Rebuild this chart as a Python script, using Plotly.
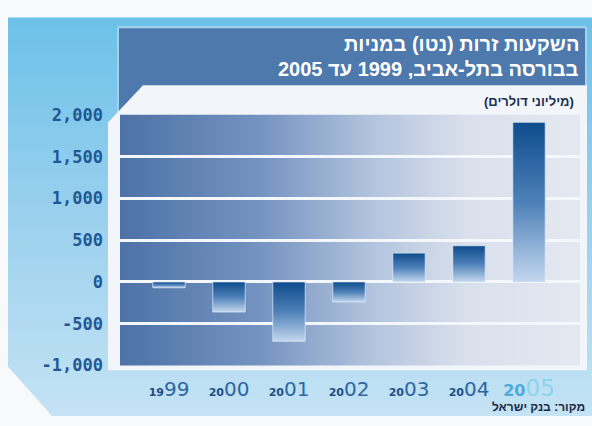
import plotly.graph_objects as go

# Net foreign investment in TASE shares, USD millions
years = ["1999", "2000", "2001", "2002", "2003", "2004", "2005"]
net_investment = [-70, -360, -710, -240, 345, 433, 1910]

y_ticks = [-1000, -500, 0, 500, 1000, 1500, 2000]
y_tick_labels = ["-1,000", "-500", "0", "500", "1,000", "1,500", "2,000"]

title_lines = ["השקעות זרות (נטו) במניות", "בבורסה בתל-אביב, 1999 עד 2005"]
unit_label = "(מיליוני דולרים)"
source_label = "מקור: בנק ישראל"

W, H = 592, 426
PLOT_L, PLOT_R, PLOT_T, PLOT_B = 120, 580, 110, 373
STEP_PX = 60          # horizontal distance between year slots
FIRST_PX = 169        # centre of the first slot
BAR_HALF = 0.27       # half bar width, in slot units

NAVY = "#1f5894"
HEB_FONT = "Liberation Sans"


def px_x(v):
    return v / W


def px_y(v):
    return 1 - v / H


def year_label(y, last=False):
    head, tail = y[:2], y[2:]
    if last:
        return (f"<span style='font-size:16px;color:#4fa9dc'><b>{head}</b></span>"
                f"<span style='font-size:23px;color:#8fd3ee'>{tail}</span>")
    return (f"<span style='font-size:11px;color:#1d4f86'><b>{head}</b></span>"
            f"<span style='font-size:20px;color:#2c66a3'>{tail}</span>")


fig = go.Figure()

# ---- decorative backdrop, drawn on a pixel-space subplot ----
def deco(xs, ys, color=None, gradient=None, line=None):
    fig.add_trace(go.Scatter(
        x=xs, y=ys, mode="lines", fill="toself",
        fillcolor=color, fillgradient=gradient,
        line=line or dict(width=0, color="rgba(0,0,0,0)"),
        hoverinfo="skip", showlegend=False, xaxis="x", yaxis="y"))

# light blue panel with clipped lower-left corner (deep at the top, pale below)
deco([8, 592, 592, 52, 8, 8], [8, 8, 426, 426, 374, 8],
     gradient=dict(type="vertical",
                   colorscale=[[0, "#c4e3f4"], [0.45, "#9fd2ee"], [1, "#6cc1e9"]]))
# title block
deco([118, 586, 586, 118, 118], [18, 18, 112, 112, 18], color="#4d79ac",
     line=dict(width=2, color="#a3d2ef"))
# white sheet holding the chart
deco([108, 143, 587, 587, 108, 108], [118, 79, 79, 378, 378, 118], color="#f2f5f9")
# plot area wash, dark on the left fading to pale on the right
deco([PLOT_L, PLOT_R, PLOT_R, PLOT_L, PLOT_L], [PLOT_T, PLOT_T, PLOT_B, PLOT_B, PLOT_T],
     gradient=dict(type="horizontal",
                   colorscale=[[0, "#4d72a7"], [0.3, "#7493c0"], [0.55, "#b3c4de"],
                               [0.75, "#d9e0ec"], [1, "#e4e8f0"]]))

# ---- bars with a vertical gradient, drawn on the data axes ----
for i, v in enumerate(net_investment):
    fig.add_trace(go.Scatter(
        x=[i - BAR_HALF, i + BAR_HALF, i + BAR_HALF, i - BAR_HALF, i - BAR_HALF],
        y=[0, 0, v, v, 0],
        mode="lines", fill="toself",
        fillgradient=dict(type="vertical",
                          colorscale=[[0, "#c3d7ee"], [0.5, "#4d80b8"], [1, "#0e4c8c"]]),
        line=dict(width=1, color="rgba(225,236,248,0.7)"),
        name=years[i], hovertemplate=f"{years[i]}: {v:,}<extra></extra>",
        showlegend=False, xaxis="x2", yaxis="y2"))

fig.update_layout(
    width=W, height=H,
    margin=dict(l=0, r=0, t=0, b=0),
    paper_bgcolor="#f7f9fb",
    plot_bgcolor="rgba(0,0,0,0)",
    showlegend=False,
    xaxis=dict(domain=[0, 1], range=[0, W], visible=False, fixedrange=True),
    yaxis=dict(domain=[0, 1], range=[H, 0], visible=False, fixedrange=True),
    xaxis2=dict(
        domain=[px_x(PLOT_L), px_x(PLOT_R)], anchor="y2",
        range=[(PLOT_L - FIRST_PX) / STEP_PX, (PLOT_R - FIRST_PX) / STEP_PX],
        tickmode="array", tickvals=list(range(len(years))),
        ticktext=[year_label(y, i == len(years) - 1) for i, y in enumerate(years)],
        tickfont=dict(family="DejaVu Sans", size=20, color=NAVY),
        ticks="", ticklabelstandoff=10,
        showgrid=False, zeroline=False, showline=False, fixedrange=True),
    yaxis2=dict(
        domain=[px_y(PLOT_B), px_y(PLOT_T)], anchor="x2",
        range=[-1000, 2000],
        tickmode="array", tickvals=y_ticks, ticktext=y_tick_labels,
        tickfont=dict(family="DejaVu Sans Mono", size=17, color=NAVY, weight="bold"),
        ticks="", ticklabelstandoff=16,
        showgrid=True, gridcolor="#f4f7fb", gridwidth=3,
        zeroline=False, showline=False, fixedrange=True),
)

annotations = [
    dict(text=f"<b>{title_lines[0]}</b>", x=px_x(581), y=px_y(36),
         font=dict(family=HEB_FONT, size=20, color="white")),
    dict(text=f"<b>{title_lines[1]}</b>", x=px_x(581), y=px_y(62),
         font=dict(family=HEB_FONT, size=20, color="white")),
    dict(text=f"<b>{unit_label}</b>", x=px_x(576), y=px_y(96),
         font=dict(family=HEB_FONT, size=13, color="#1a2f52")),
    dict(text=f"<b>{source_label}</b>", x=px_x(586), y=px_y(417),
         font=dict(family=HEB_FONT, size=12, color="#1b2b45"),
         yanchor="middle", borderpad=0),
]
for a in annotations:
    a.setdefault("yanchor", "middle")
    a.update(xref="paper", yref="paper", xanchor="right", showarrow=False)
fig.update_layout(annotations=annotations)

fig.write_html("out.html")
